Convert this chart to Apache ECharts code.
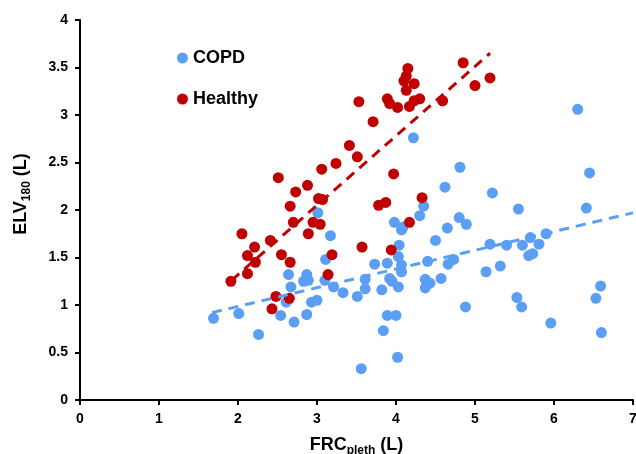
<!DOCTYPE html>
<html>
<head>
<meta charset="utf-8">
<script src="https://cdn.jsdelivr.net/npm/echarts@6/dist/echarts.min.js"></script>
<style>
  html, body { margin: 0; padding: 0; background: #fff; }
  #chart { width: 636px; height: 454px; }
</style>
</head>
<body>
<div id="chart"></div>
<script>
/* ELV180 vs FRCpleth scatter, COPD vs Healthy */

var copdPoints = [
	[1.69,0.86],[2.01,0.91],[2.26,0.69],[2.54,0.89],[2.71,0.82],[2.87,0.90],
	[2.64,1.32],[2.67,1.19],[2.61,1.03],[2.83,1.25],[2.87,1.32],[2.89,1.26],
	[2.93,1.03],[3.00,1.05],[3.01,1.97],[3.17,1.73],[3.11,1.48],[3.10,1.26],
	[3.21,1.19],[3.33,1.13],[3.51,1.09],[3.61,1.27],[3.61,1.17],[3.73,1.43],
	[3.82,1.16],[3.89,1.44],[3.92,1.28],[3.95,1.25],[4.03,1.19],[4.04,1.63],
	[4.03,1.51],[4.07,1.42],[4.07,1.35],[3.98,1.87],[4.07,1.79],[4.09,1.82],
	[4.30,1.94],[4.35,2.04],[4.22,2.76],[4.40,1.46],[4.37,1.27],[4.43,1.23],
	[4.37,1.18],[4.57,1.28],[4.50,1.68],[4.65,1.81],[4.66,1.43],[4.73,1.48],
	[4.80,1.92],[4.89,1.85],[4.81,2.45],[4.62,2.24],[4.88,0.98],[5.14,1.35],
	[5.19,1.64],[5.22,2.18],[5.32,1.41],[5.40,1.63],[5.53,1.08],[5.59,0.98],
	[5.55,2.01],[5.60,1.63],[5.70,1.71],[5.68,1.52],[5.73,1.54],[5.81,1.64],
	[5.90,1.75],[5.96,0.81],[6.30,3.06],[6.45,2.39],[6.41,2.02],[6.53,1.07],
	[6.59,1.20],[6.60,0.71],[3.89,0.89],[4.00,0.89],[3.84,0.73],[4.02,0.45],
	[3.56,0.33]
];

var healthyPoints = [
	[1.91,1.25],[2.05,1.75],[2.12,1.52],[2.21,1.61],[2.22,1.45],[2.12,1.33],
	[2.41,1.68],[2.55,1.53],[2.66,1.45],[2.66,2.04],[2.70,1.87],[2.89,1.75],
	[2.95,1.87],[2.48,1.09],[2.43,0.96],[2.65,1.07],[2.51,2.34],[2.73,2.19],
	[2.88,2.26],[3.02,2.12],[3.07,2.11],[3.06,2.43],[3.04,1.85],[3.24,2.49],
	[3.41,2.68],[3.51,2.56],[3.53,3.14],[3.71,2.93],[3.89,3.17],[3.92,3.12],
	[4.02,3.08],[4.10,3.36],[4.13,3.41],[4.15,3.49],[4.23,3.33],[4.13,3.26],
	[4.17,3.09],[4.23,3.15],[4.30,3.17],[4.59,3.15],[4.85,3.55],[5.00,3.31],
	[5.19,3.39],[3.97,2.38],[3.78,2.05],[3.87,2.08],[4.33,2.13],[4.17,1.87],
	[3.14,1.32],[3.19,1.53],[3.57,1.61],[3.94,1.58]
];

// linear trend lines (end points)
var copdTrend = [[1.67,0.92],[7,1.97]];
var healthyTrend = [[1.92,1.26],[5.19,3.65]];

var xTicks = [0,1,2,3,4,5,6,7];
var yTicks = [0,0.5,1,1.5,2,2.5,3,3.5,4];

var blue = '#5B9FF5';
var red = '#C00000';
var font = 'Liberation Sans, Arial, sans-serif';

var myChart = echarts.init(document.getElementById('chart'));

var axisCommon = {
	axisLine: {show: true, onZero: false, lineStyle: {color: '#000', width: 2}},
	axisTick: {show: true, length: 5, lineStyle: {color: '#000', width: 2}},
	axisLabel: {color: '#000', fontFamily: font, fontWeight: 'bold', fontSize: 14, margin: 12},
	splitLine: {show: false}
};

var nameRich = {
	a: {fontFamily: font, fontWeight: 'bold', fontSize: 18, color: '#000', lineHeight: 22, verticalAlign: 'bottom'},
	b: {fontFamily: font, fontWeight: 'bold', fontSize: 12, color: '#000', lineHeight: 22, verticalAlign: 'bottom', padding: [0,0,-3,0]}
};

option = {
	animation: false,
	grid: {left: 80, right: 3, top: 20, bottom: 54, containLabel: false, outerBoundsMode: 'none'},
	legend: {
		orient: 'vertical',
		left: 172,
		top: 44,
		data: ['COPD', 'Healthy'],
		icon: 'circle',
		itemWidth: 11,
		itemHeight: 11,
		itemGap: 23,
		textStyle: {color: '#000', fontFamily: font, fontWeight: 'bold', fontSize: 18}
	},
	xAxis: Object.assign({}, axisCommon, {
		type: 'value',
		min: xTicks[0],
		max: xTicks[xTicks.length-1],
		interval: 1,
		name: '{a|FRC}{b|pleth}{a| (L)}',
		nameLocation: 'middle',
		nameGap: 32,
		nameTextStyle: {rich: nameRich}
	}),
	yAxis: Object.assign({}, axisCommon, {
		type: 'value',
		min: yTicks[0],
		max: yTicks[yTicks.length-1],
		interval: 0.5,
		name: '{a|ELV}{b|180}{a| (L)}',
		nameLocation: 'middle',
		nameGap: 50,
		nameTextStyle: {rich: nameRich, padding: [0, 0, 0, 32]}
	}),
	series: [
		{
			name: 'COPD',
			type: 'scatter',
			data: copdPoints,
			symbolSize: 11,
			itemStyle: {color: blue, opacity: 1},
			z: 3
		},
		{
			name: 'Healthy',
			type: 'scatter',
			data: healthyPoints,
			symbolSize: 11,
			itemStyle: {color: red, opacity: 1},
			z: 4
		},
		{
			name: 'COPD trend',
			type: 'line',
			data: copdTrend,
			symbol: 'none',
			lineStyle: {color: blue, width: 3, type: [10, 7]},
			z: 5
		},
		{
			name: 'Healthy trend',
			type: 'line',
			data: healthyTrend,
			symbol: 'none',
			lineStyle: {color: red, width: 3, type: [10, 7]},
			z: 5
		}
	]
};

myChart.setOption(option);
</script>
</body>
</html>
